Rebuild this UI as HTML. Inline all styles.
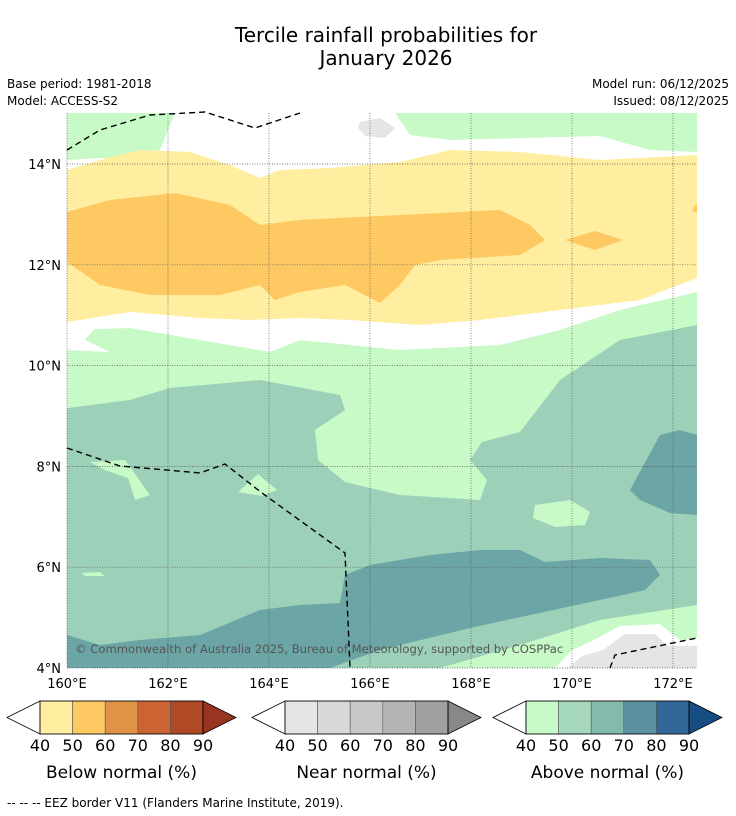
<!DOCTYPE html>
<html><head><meta charset="utf-8"><style>
body{margin:0;background:#fff;width:736px;height:816px;overflow:hidden;font-family:"DejaVu Sans","Liberation Sans",sans-serif}
svg{display:block}
</style></head><body>
<svg width="736" height="816" viewBox="0 0 736 816">
<text x="386" y="42" text-anchor="middle" font-size="20">Tercile rainfall probabilities for</text>
<text x="386" y="65" text-anchor="middle" font-size="20">January 2026</text>
<text x="7" y="88" font-size="12">Base period: 1981-2018</text>
<text x="7" y="105" font-size="12">Model: ACCESS-S2</text>
<text x="729" y="88" font-size="12" text-anchor="end">Model run: 06/12/2025</text>
<text x="729" y="105" font-size="12" text-anchor="end">Issued: 08/12/2025</text>
<defs><clipPath id="mc"><rect x="67" y="113" width="630" height="555"/></clipPath></defs>
<g id="map" clip-path="url(#mc)"></g>
<g id="axes"></g>
<g id="bars"></g>
<text x="7" y="807" font-size="12">--  --  -- EEZ border V11 (Flanders Marine Institute, 2019).</text>
</svg>
<script>
const NS="http://www.w3.org/2000/svg";
const latTicks=[14,12,10,8,6,4];
const lonTicks=[160,162,164,166,168,170,172];
const belowColors=["#ffeda0","#fec962","#e09346","#cc6332","#b04a26","#983520"];
const nearColors=["#e5e5e5","#d8d8d8","#c8c8c8","#b4b4b4","#a0a0a0","#888888"];
const aboveColors=["#c8fac8","#a5d8bf","#84b9ad","#5b92a2","#326899","#164d82"];
const levels=[40,50,60,70,80,90];
function X(lon){return 67+(lon-160)*50.5}
function Y(lat){return 668-(lat-4)*50.4}
const layers=[
 ["light-green-top-left","#c8fac8",[[67,113],[175,113],[160,150],[135,158],[100,158],[67,160]]],
 ["light-green-top-right","#c8fac8",[[395,113],[697,113],[697,152],[650,150],[600,136],[450,140],[410,135]]],
 ["grey-blob-top","#e5e5e5",[[360,122],[380,118],[395,128],[385,138],[365,136],[358,128]]],
 ["light-green-lower","#c8fac8",[[67,330],[130,328],[200,340],[270,352],[300,340],[400,350],[500,345],[560,330],[620,310],[697,292],[697,668],[67,668]]],
 ["white-gap-left","#ffffff",[[67,322],[95,328],[85,340],[110,352],[67,350]]],
 ["yellow-band","#ffeda0",[[67,170],[100,160],[140,150],[190,152],[230,165],[260,178],[280,170],[330,168],[400,162],[450,150],[520,152],[600,160],[697,155],[697,278],[640,300],[560,310],[480,320],[420,325],[350,320],[300,318],[250,320],[200,318],[130,312],[67,322]]],
 ["orange-core","#fec962",[[67,212],[110,200],[175,193],[230,205],[260,225],[300,220],[400,215],[500,210],[530,225],[545,240],[520,255],[440,260],[415,265],[400,285],[380,303],[345,285],[300,292],[275,300],[260,285],[220,295],[150,295],[100,285],[67,262]]],
 ["orange-small","#fec962",[[565,240],[595,231],[623,240],[595,250]]],
 ["orange-edge","#fec962",[[697,203],[692,210],[697,213]]],
 ["mid-green","#9dd0b9",[[67,408],[130,400],[170,388],[260,380],[340,395],[345,410],[315,430],[318,460],[345,482],[400,495],[480,500],[487,480],[470,460],[482,442],[520,432],[560,380],[620,340],[697,325],[697,605],[600,620],[520,645],[440,668],[67,668]]],
 ["green-island-1","#c8fac8",[[535,505],[570,500],[590,512],[585,525],[555,527],[533,518]]],
 ["green-island-2","#c8fac8",[[90,462],[125,460],[150,495],[135,500],[128,478],[105,470]]],
 ["green-island-3","#c8fac8",[[238,492],[258,474],[277,490],[262,496]]],
 ["green-island-4","#c8fac8",[[82,573],[100,572],[105,576],[85,576]]],
 ["teal-right","#6ca5a5",[[630,490],[660,435],[680,430],[697,435],[697,515],[670,513],[640,500]]],
 ["teal-bottom","#6ca5a5",[[67,635],[100,645],[140,640],[200,635],[260,610],[300,605],[340,603],[345,575],[370,565],[430,555],[480,550],[520,550],[545,562],[600,558],[650,560],[660,575],[645,590],[600,600],[530,615],[470,628],[380,650],[330,668],[67,668]]],
 ["white-bottom-right","#ffffff",[[555,668],[572,650],[590,642],[620,626],[660,624],[680,640],[697,638],[697,668]]],
 ["grey-bottom-right","#e5e5e5",[[568,668],[582,656],[603,650],[625,634],[655,634],[668,646],[697,646],[697,668]]]
];
const eez=[
 [[67,150],[100,130],[150,115],[205,112],[255,128],[300,113]],
 [[67,448],[120,466],[200,473],[225,464],[262,493],[345,553],[350,668]],
 [[610,668],[615,655],[697,638]]
];
const map=document.getElementById('map');
for(const [n,c,pts] of layers){
 const p=document.createElementNS(NS,'polygon');
 p.setAttribute('points',pts.map(q=>q.join(',')).join(' '));
 p.setAttribute('fill',c);
 
 
 map.appendChild(p);
}
const ax=document.getElementById('axes');
function add(parent,tag,attrs,txt){const e=document.createElementNS(NS,tag);for(const k in attrs)e.setAttribute(k,attrs[k]);if(txt!==undefined)e.textContent=txt;parent.appendChild(e);return e}
for(const lat of latTicks){
 const l=add(ax,'line',{x1:67,x2:697,y1:Y(lat),y2:Y(lat),stroke:'#555','stroke-width':0.7,'stroke-dasharray':'1,1.5'});
 
 
 const t=add(ax,'text',{x:61,y:Y(lat)+5,'text-anchor':'end','font-size':13},lat+'°N');
 
 
}
for(const lon of lonTicks){
 const l=add(ax,'line',{x1:X(lon),x2:X(lon),y1:113,y2:668,stroke:'#555','stroke-width':0.7,'stroke-dasharray':'1,1.5'});
 
 
 const t=add(ax,'text',{x:X(lon),y:688,'text-anchor':'middle','font-size':13},lon+'°E');
 
 
}
for(const line of eez){
 const p=add(ax,'polyline',{points:line.map(q=>q.join(',')).join(' '),fill:'none',stroke:'#000','stroke-width':1.4,'stroke-dasharray':'6,4'});
 
 
}
const cp=add(ax,'text',{x:75,y:653,'font-size':11.6,fill:'#555'},'© Commonwealth of Australia 2025, Bureau of Meteorology, supported by COSPPac');


const bars=document.getElementById('bars');
const specs=[[7,'Below normal (%)',belowColors,'below-normal-colorbar'],[252,'Near normal (%)',nearColors,'near-normal-colorbar'],[493,'Above normal (%)',aboveColors,'above-normal-colorbar']];
for(const [x0,title,cols,name] of specs){
 const g=add(bars,'g',{});
 
 
 const bx=x0+33,bw=32.6,y0=701,h=33;
 add(g,'polygon',{points:`${x0},${y0+h/2} ${bx},${y0} ${bx},${y0+h}`,fill:'#fff',stroke:'#000','stroke-width':0.8});
 for(let i=0;i<5;i++){
  add(g,'rect',{x:bx+i*bw,y:y0,width:bw,height:h,fill:cols[i],stroke:'#555','stroke-width':0.6});
 }
 const ex=bx+5*bw;
 add(g,'polygon',{points:`${ex},${y0} ${ex+33},${y0+h/2} ${ex},${y0+h}`,fill:cols[5],stroke:'#000','stroke-width':0.8});
 add(g,'rect',{x:bx,y:y0,width:5*bw,height:h,fill:'none',stroke:'#000','stroke-width':0.8});
 levels.forEach((v,i)=>add(g,'text',{x:bx+i*bw,y:751,'text-anchor':'middle','font-size':16},v));
 add(g,'text',{x:bx+2.5*bw,y:778,'text-anchor':'middle','font-size':17},title);
}
</script>
</body></html>
